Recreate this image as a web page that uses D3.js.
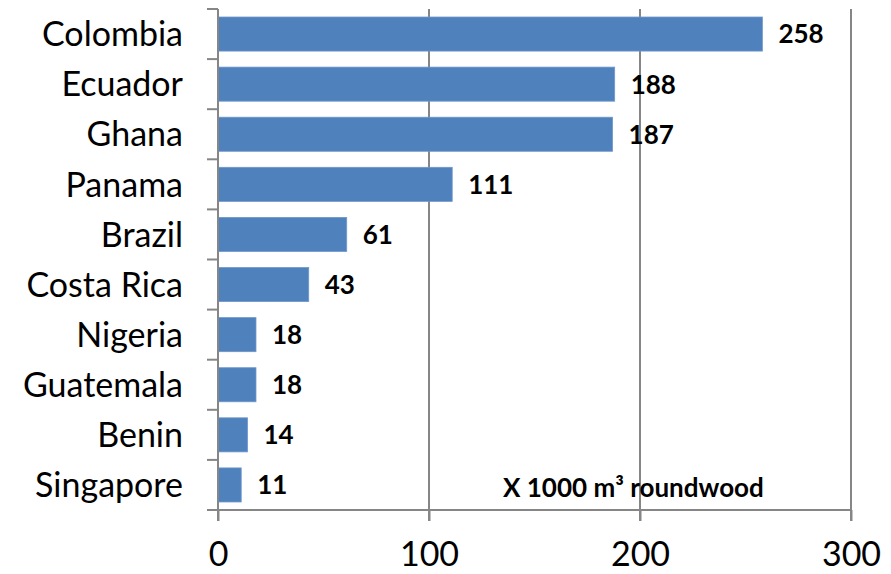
<!DOCTYPE html>
<html><head><meta charset="utf-8">
<script src="https://cdn.jsdelivr.net/npm/d3@7"></script>
<style>body{margin:0;background:#fff}svg{display:block}</style>
</head><body>
<script>
const countries = ["Colombia","Ecuador","Ghana","Panama","Brazil","Costa Rica","Nigeria","Guatemala","Benin","Singapore"];
const volumes = [258,188,187,111,61,43,18,18,14,11];
const xTicks = [0,100,200,300];
const unitLabel = "X 1000 m³ roundwood";

const W = 891, H = 574;
const mLeft = 218, mRight = 851, mTop = 9, mBottom = 510;
const svg = d3.select("body").append("svg").attr("width",W).attr("height",H);
const x = d3.scaleLinear().domain([0,300]).range([mLeft,mRight]);
const y = d3.scaleBand().domain(countries).range([mTop,mBottom]).paddingInner(0.32).paddingOuter(0.16);
const grey = "#868686";
const font = "Lato, 'Open Sans', sans-serif";

// gridlines
svg.append("g").selectAll("line").data(xTicks.filter(d=>d>0)).join("line")
  .attr("x1",d=>x(d)).attr("x2",d=>x(d)).attr("y1",mTop).attr("y2",mBottom+11)
  .attr("stroke",grey).attr("stroke-width",2);

// bars
svg.append("g").selectAll("rect").data(countries).join("rect")
  .attr("x",x(0)).attr("y",d=>y(d)).attr("width",(d,i)=>x(volumes[i])-x(0)).attr("height",y.bandwidth())
  .attr("fill","#4F81BD").attr("stroke","#6f97cc").attr("stroke-width",0.8);

// x axis
const xAxis = svg.append("g").attr("transform",`translate(0,${mBottom})`)
  .call(d3.axisBottom(x).tickValues(xTicks).tickSize(11).tickSizeOuter(0).tickPadding(21));
xAxis.select(".domain").attr("d",`M${mLeft-11},0H${mRight}`).attr("stroke",grey).attr("stroke-width",2);
xAxis.selectAll(".tick line").attr("stroke",grey).attr("stroke-width",2);
xAxis.selectAll("text").attr("font-family",font).attr("font-size",34).attr("fill","#000");

// y axis
const yAxisG = svg.append("g").attr("transform",`translate(${mLeft},0)`);
yAxisG.append("line").attr("x1",0).attr("x2",0).attr("y1",mTop).attr("y2",mBottom+11).attr("stroke",grey).attr("stroke-width",2);
const bounds = countries.map(d=>y(d)-y.step()*y.paddingInner()/2).concat([mBottom]);
bounds[0]=mTop;
yAxisG.selectAll("line.tk").data(bounds).join("line").attr("class","tk")
  .attr("x1",-11).attr("x2",0).attr("y1",d=>d).attr("y2",d=>d).attr("stroke",grey).attr("stroke-width",2);
yAxisG.selectAll("text").data(countries).join("text")
  .attr("x",-35).attr("y",d=>y(d)+y.bandwidth()/2).attr("dy","0.36em")
  .attr("text-anchor","end").attr("font-family",font).attr("font-size",34).attr("fill","#000").text(d=>d);

// value labels
svg.append("g").selectAll("text").data(countries).join("text")
  .attr("x",(d,i)=>x(volumes[i])+16).attr("y",d=>y(d)+y.bandwidth()/2).attr("dy","0.36em")
  .attr("font-family",font).attr("font-weight","bold").attr("font-size",26).attr("fill","#000")
  .text((d,i)=>volumes[i]);

// unit note
svg.append("text").attr("x",503).attr("y",497).attr("font-family",font).attr("font-weight","bold")
  .attr("font-size",26).attr("fill","#000").text(unitLabel);
</script>
</body></html>
